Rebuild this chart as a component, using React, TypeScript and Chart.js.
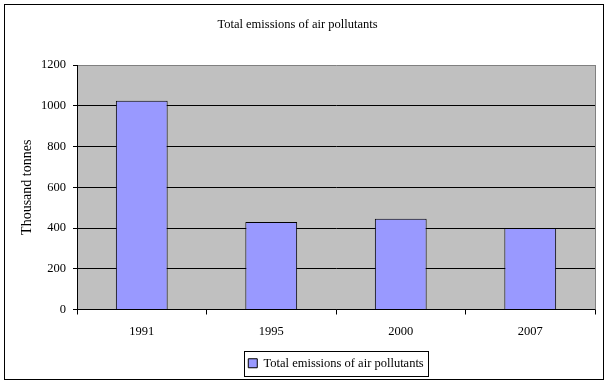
import React, { useEffect, useRef } from 'react';
import { Chart, registerables } from 'chart.js';

Chart.register(...registerables);

const chartTitle = 'Total emissions of air pollutants';
const seriesLabel = 'Total emissions of air pollutants';
const yAxisTitle = 'Thousand tonnes';
const categories = ['1991', '1995', '2000', '2007'];
const emissions = [1025, 430, 445, 400];
const yTicks = [0, 200, 400, 600, 800, 1000, 1200];

const FONT = 'Liberation Serif, Times New Roman, serif';

const framePlugin = {
  id: 'frame',
  afterLayout(chart: any) {
    const lg = chart.legend;
    const ca = chart.chartArea;
    if (lg && ca) {
      lg.left = ca.left;
      lg.right = ca.right;
    }
  },
  beforeDraw(chart: any) {
    const { ctx, chartArea } = chart;
    ctx.save();
    ctx.fillStyle = '#ffffff';
    ctx.fillRect(0, 0, chart.width, chart.height);
    ctx.fillStyle = '#C0C0C0';
    ctx.fillRect(chartArea.left, chartArea.top, chartArea.right - chartArea.left, chartArea.bottom - chartArea.top);
    ctx.restore();
  },
  beforeDatasetsDraw(chart: any) {
    const { ctx, chartArea } = chart;
    ctx.save();
    ctx.strokeStyle = '#808080';
    ctx.lineWidth = 1;
    ctx.beginPath();
    ctx.moveTo(Math.round(chartArea.right) + 0.5, chartArea.top);
    ctx.lineTo(Math.round(chartArea.right) + 0.5, chartArea.bottom);
    ctx.stroke();
    ctx.restore();
  },
  afterDraw(chart: any) {
    const { ctx } = chart;
    ctx.save();
    ctx.strokeStyle = '#000000';
    ctx.lineWidth = 1;
    ctx.strokeRect(4.5, 4.5, 599, 375);
    const hb = chart.legend && chart.legend.legendHitBoxes && chart.legend.legendHitBoxes[0];
    if (hb) {
      const l = Math.round(hb.left - 4) + 0.5;
      const t = Math.round(hb.top - 6) + 0.5;
      const r = Math.round(hb.left + hb.width + 4) + 0.5;
      const b = Math.round(hb.top + hb.height + 6) + 0.5;
      ctx.strokeRect(l, t, r - l, b - t);
    }
    ctx.restore();
  },
};

export default function App() {
  const canvasRef = useRef<HTMLCanvasElement | null>(null);

  useEffect(() => {
    const canvas = canvasRef.current;
    if (!canvas) return;
    const chart = new Chart(canvas, {
      type: 'bar',
      data: {
        labels: categories,
        datasets: [
          {
            label: seriesLabel,
            data: emissions,
            backgroundColor: '#9999FF',
            borderColor: '#000000',
            borderWidth: 1,
            categoryPercentage: 1,
            barPercentage: 0.4,
          },
        ],
      },
      options: {
        responsive: false,
        animation: false,
        devicePixelRatio: 1,
        layout: { padding: { left: 0, right: 15, top: 0, bottom: 6.5 } },
        plugins: {
          title: {
            display: true,
            text: chartTitle,
            color: '#000000',
            font: { family: FONT, size: 12.5, weight: 'normal', lineHeight: 1.2 },
            padding: { top: 17.5, bottom: 32.5 },
          },
          legend: {
            display: true,
            position: 'bottom',
            labels: {
              color: '#000000',
              font: { family: FONT, size: 12.5 },
              boxWidth: 9,
              boxHeight: 9,
              padding: 10,
            },
          },
          tooltip: { enabled: false },
        },
        scales: {
          x: {
            grid: {
              display: true,
              drawOnChartArea: false,
              drawTicks: true,
              tickLength: 5,
              tickColor: '#000000',
              offset: true,
            },
            border: { display: true, color: '#000000', width: 1 },
            ticks: {
              color: '#000000',
              font: { family: FONT, size: 12.5 },
              padding: 10,
              maxRotation: 0,
            },
            afterFit(scale: any) {
              scale.height = 37.5;
            },
          },
          y: {
            min: 0,
            max: 1200,
            afterBuildTicks(scale: any) {
              scale.ticks = yTicks.map((v) => ({ value: v }));
            },
            grid: {
              color: (c: any) => (c.tick && c.tick.value === 1200 ? '#808080' : '#000000'),
              tickColor: '#000000',
              tickLength: 4,
              lineWidth: 1,
            },
            border: { display: true, color: '#000000', width: 1 },
            ticks: {
              color: '#000000',
              font: { family: FONT, size: 12.5 },
              padding: 7,
              callback: (v: any) => String(v),
            },
            title: {
              display: true,
              text: yAxisTitle,
              color: '#000000',
              font: { family: FONT, size: 14 },
              padding: { top: 18.5, bottom: 18.5 },
            },
            afterFit(scale: any) {
              scale.width = 77;
            },
          },
        },
      },
      plugins: [framePlugin],
    });
    return () => chart.destroy();
  }, []);

  return (
    <div style={{ position: 'fixed', left: 0, top: 0, width: 610, height: 386, background: '#fff' }}>
      <canvas ref={canvasRef} width={610} height={386} style={{ display: 'block', width: 610, height: 386 }} />
    </div>
  );
}
